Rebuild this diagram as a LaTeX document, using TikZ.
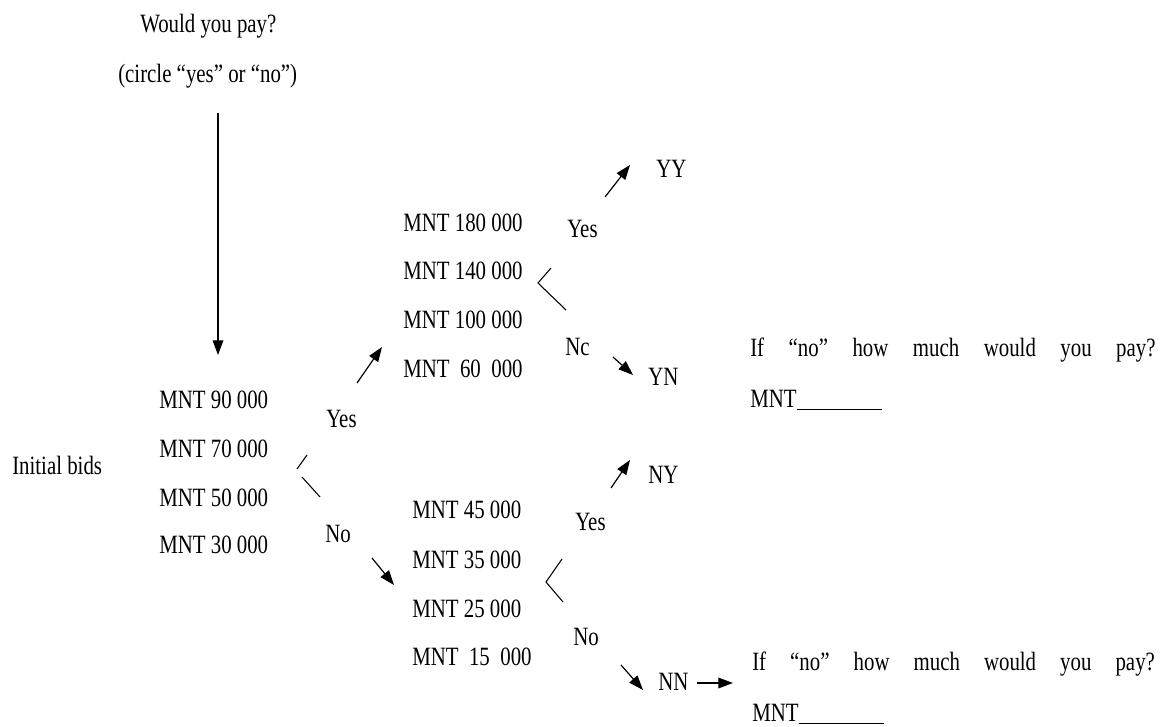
\documentclass[tikz,border=0pt]{standalone}
\usepackage{fontspec}
\setmainfont[FakeStretch=0.79]{Liberation Serif}
\usetikzlibrary{arrows.meta}
\tikzset{
    txt/.style={inner sep=0pt, anchor=base west, font=\fontsize{19.8}{24}\selectfont},
    arr/.style={-{Triangle[length=11pt,width=8pt]}, line width=0.9pt},
    brk/.style={line width=0.8pt},
}
\begin{document}
\begin{tikzpicture}[x=0.75pt,y=-0.75pt]
    \useasboundingbox (0,0) rectangle (1163,727);

    % question on top
    \node (ask) [txt] at (140,33) {Would you pay?};
    \node (circ) [txt] at (118,83) {(circle “yes” or “no”)};
    \draw[arr] (218,113) -- (218,355);

    % first bid
    \node (init) [txt] at (12,474) {Initial bids};
    \foreach \v/\y in {90/408,70/457,50/506,30/553}
        \node (bid\v) [txt] at (159,\y) {MNT \v\ 000};
    \draw[brk] (297,469) -- (307,455);
    \draw[brk] (302,477) -- (320,497);
    \node (yes) [txt] at (326,427) {Yes};
    \node (no) [txt] at (325,542) {No};
    \draw[arr] (357,383) -- (382,347);
    \draw[arr] (372,558) -- (394,585);

    % follow-up after yes
    \foreach \v/\y in {180/232,140/280,100/328}
        \node (hi\v) [txt] at (403,\y) {MNT \v\ 000};
    \node (hi60) [txt] at (403,377) {MNT\ \ 60\ \ 000};
    \draw[brk] (551,268) -- (538,283) -- (566,310);
    \node (yesy) [txt] at (567,238) {Yes};
    \node (yesn) [txt] at (565,355) {Nc};
    \draw[arr] (605,197) -- (630,165);
    \draw[arr] (613,357) -- (633,375);
    \node (yy) [txt] at (656,178) {YY};
    \node (yn) [txt] at (648,385) {YN};

    % follow-up after no
    \foreach \v/\y in {45/518,35/568,25/617}
        \node (lo\v) [txt] at (412,\y) {MNT \v\ 000};
    \node (lo15) [txt] at (412,665) {MNT\ \ 15\ \ 000};
    \draw[brk] (562,559) -- (546,582) -- (563,602);
    \node (noy) [txt] at (575,530) {Yes};
    \node (non) [txt] at (573,645) {No};
    \draw[arr] (611,488) -- (630,460);
    \draw[arr] (621,665) -- (643,690);
    \node (ny) [txt] at (648,483) {NY};
    \node (nn) [txt] at (658,690) {NN};
    \draw[arr] (697,683) -- (733,683);

    % open questions
    \node (howA) [txt] at (750,356) {\hbox to 304pt{If\hfill “no”\hfill how\hfill much\hfill would\hfill you\hfill pay?}};
    \node (payA) [txt] at (750,407) {MNT\underline{\hspace{64pt}}};
    \node (howB) [txt] at (752,670) {\hbox to 302pt{If\hfill “no”\hfill how\hfill much\hfill would\hfill you\hfill pay?}};
    \node (payB) [txt] at (752,721) {MNT\underline{\hspace{64pt}}};
\end{tikzpicture}
\end{document}
